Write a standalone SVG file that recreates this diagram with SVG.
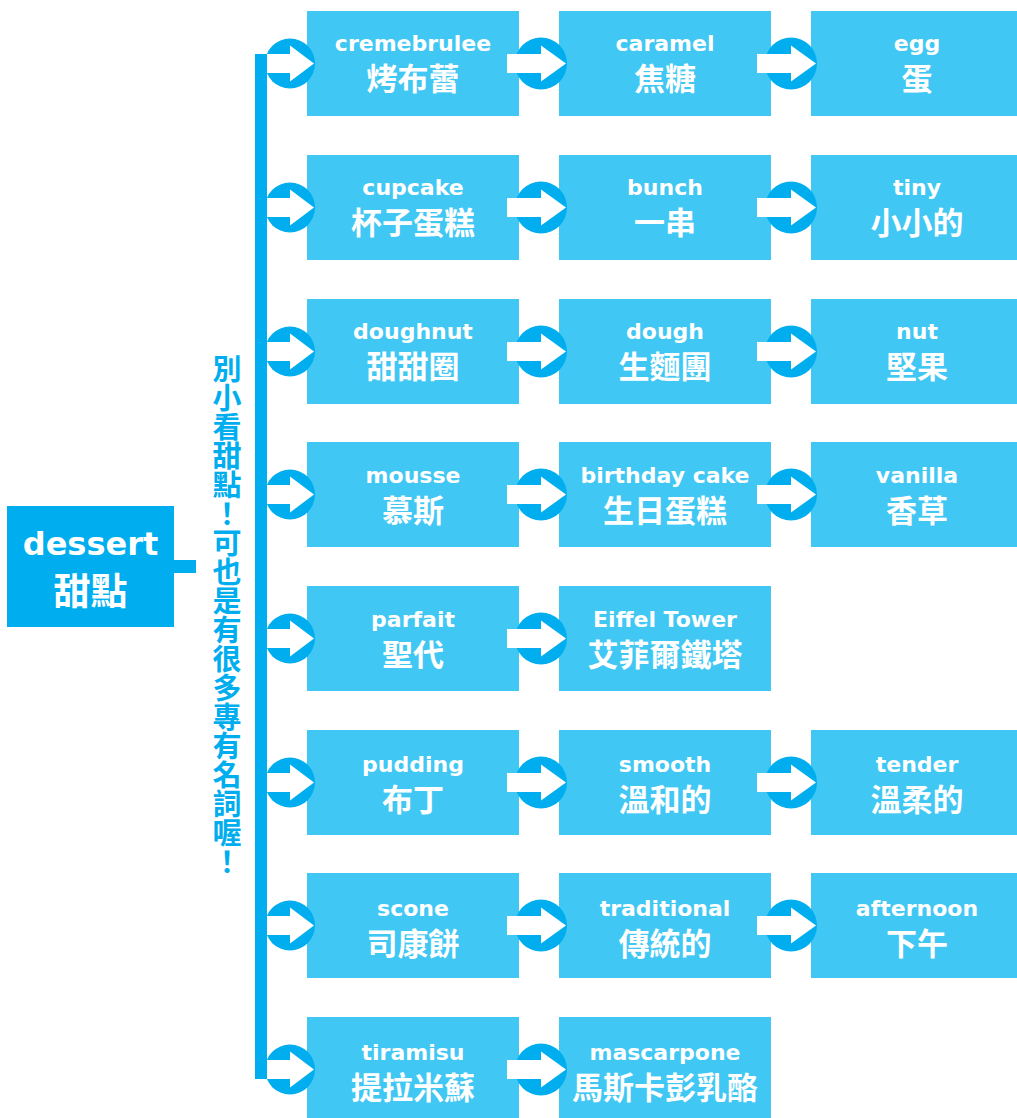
<svg xmlns="http://www.w3.org/2000/svg" width="1017" height="1118" viewBox="0 0 1017 1118">
<defs>
<style>
.box{fill:#41C7F4}
.root{fill:#00AEEF}
.dk{fill:#00AEEF}
.wh{fill:#FFFFFF}
.en{font-family:"DejaVu Sans","Noto Sans CJK TC",sans-serif;font-weight:bold;font-size:22px;fill:#FFFFFF;text-anchor:middle}
.zh{font-family:"Noto Sans CJK TC",sans-serif;font-weight:bold;font-size:31px;fill:#FFFFFF;text-anchor:middle}
.vt{font-family:"Noto Sans CJK TC",sans-serif;font-weight:bold;font-size:29px;fill:#00AEEF;writing-mode:vertical-rl}
</style>
<g id="arrowL">
<circle cx="290" cy="0" r="25" class="dk"/>
<rect x="267" y="-9.5" width="23" height="19" class="wh"/>
<polygon points="290,-18 314,0 290,18" class="wh"/>
</g>
<g id="arrowM">
<circle cx="541" cy="0" r="26" class="dk"/>
<rect x="507" y="-9.5" width="34" height="19" class="wh"/>
<polygon points="541,-18 566,0 541,18" class="wh"/>
</g>
</defs>
<rect width="1017" height="1118" fill="#FFFFFF"/>

<g id="root">
<rect x="7" y="506" width="167" height="121" class="root"/>
<text x="90.5" y="555" class="en" style="font-size:32px">dessert</text>
<text x="90.5" y="605" class="zh" style="font-size:37px">甜點</text>
</g>

<g id="caption">
<text x="227" y="354" class="vt">別小看甜點！可也是有很多專有名詞喔！</text>
</g>

<g id="nodes">
<g id="n-cremebrulee"><rect x="307" y="11" width="212" height="105" class="box"/><text x="413" y="51" class="en">cremebrulee</text><text x="413" y="90" class="zh">烤布蕾</text></g>
<g id="n-caramel"><rect x="559" y="11" width="212" height="105" class="box"/><text x="665" y="51" class="en">caramel</text><text x="665" y="90" class="zh">焦糖</text></g>
<g id="n-egg"><rect x="811" y="11" width="212" height="105" class="box"/><text x="917" y="51" class="en">egg</text><text x="917" y="90" class="zh">蛋</text></g>

<g id="n-cupcake"><rect x="307" y="155" width="212" height="105" class="box"/><text x="413" y="195" class="en">cupcake</text><text x="413" y="234" class="zh">杯子蛋糕</text></g>
<g id="n-bunch"><rect x="559" y="155" width="212" height="105" class="box"/><text x="665" y="195" class="en">bunch</text><text x="665" y="234" class="zh">一串</text></g>
<g id="n-tiny"><rect x="811" y="155" width="212" height="105" class="box"/><text x="917" y="195" class="en">tiny</text><text x="917" y="234" class="zh">小小的</text></g>

<g id="n-doughnut"><rect x="307" y="299" width="212" height="105" class="box"/><text x="413" y="339" class="en">doughnut</text><text x="413" y="378" class="zh">甜甜圈</text></g>
<g id="n-dough"><rect x="559" y="299" width="212" height="105" class="box"/><text x="665" y="339" class="en">dough</text><text x="665" y="378" class="zh">生麵團</text></g>
<g id="n-nut"><rect x="811" y="299" width="212" height="105" class="box"/><text x="917" y="339" class="en">nut</text><text x="917" y="378" class="zh">堅果</text></g>

<g id="n-mousse"><rect x="307" y="442" width="212" height="105" class="box"/><text x="413" y="483" class="en">mousse</text><text x="413" y="522" class="zh">慕斯</text></g>
<g id="n-birthdaycake"><rect x="559" y="442" width="212" height="105" class="box"/><text x="665" y="483" class="en">birthday cake</text><text x="665" y="522" class="zh">生日蛋糕</text></g>
<g id="n-vanilla"><rect x="811" y="442" width="212" height="105" class="box"/><text x="917" y="483" class="en">vanilla</text><text x="917" y="522" class="zh">香草</text></g>

<g id="n-parfait"><rect x="307" y="586" width="212" height="105" class="box"/><text x="413" y="627" class="en">parfait</text><text x="413" y="666" class="zh">聖代</text></g>
<g id="n-eiffeltower"><rect x="559" y="586" width="212" height="105" class="box"/><text x="665" y="627" class="en">Eiffel Tower</text><text x="665" y="666" class="zh">艾菲爾鐵塔</text></g>

<g id="n-pudding"><rect x="307" y="730" width="212" height="105" class="box"/><text x="413" y="772" class="en">pudding</text><text x="413" y="811" class="zh">布丁</text></g>
<g id="n-smooth"><rect x="559" y="730" width="212" height="105" class="box"/><text x="665" y="772" class="en">smooth</text><text x="665" y="811" class="zh">溫和的</text></g>
<g id="n-tender"><rect x="811" y="730" width="212" height="105" class="box"/><text x="917" y="772" class="en">tender</text><text x="917" y="811" class="zh">溫柔的</text></g>

<g id="n-scone"><rect x="307" y="873" width="212" height="105" class="box"/><text x="413" y="916" class="en">scone</text><text x="413" y="955" class="zh">司康餅</text></g>
<g id="n-traditional"><rect x="559" y="873" width="212" height="105" class="box"/><text x="665" y="916" class="en">traditional</text><text x="665" y="955" class="zh">傳統的</text></g>
<g id="n-afternoon"><rect x="811" y="873" width="212" height="105" class="box"/><text x="917" y="916" class="en">afternoon</text><text x="917" y="955" class="zh">下午</text></g>

<g id="n-tiramisu"><rect x="307" y="1017" width="212" height="105" class="box"/><text x="413" y="1060" class="en">tiramisu</text><text x="413" y="1099" class="zh">提拉米蘇</text></g>
<g id="n-mascarpone"><rect x="559" y="1017" width="212" height="105" class="box"/><text x="665" y="1060" class="en">mascarpone</text><text x="665" y="1099" class="zh">馬斯卡彭乳酪</text></g>
</g>

<g id="connectors">
<rect x="174" y="560" width="22" height="13" class="dk"/>
<rect x="255" y="54" width="12" height="1025" class="dk"/>
<use href="#arrowL" y="63.5"/>
<use href="#arrowL" y="207.5"/>
<use href="#arrowL" y="351.5"/>
<use href="#arrowL" y="494.5"/>
<use href="#arrowL" y="638.5"/>
<use href="#arrowL" y="782.5"/>
<use href="#arrowL" y="925.5"/>
<use href="#arrowL" y="1069.5"/>
<use href="#arrowM" y="63.5"/>
<use href="#arrowM" y="207.5"/>
<use href="#arrowM" y="351.5"/>
<use href="#arrowM" y="494.5"/>
<use href="#arrowM" y="638.5"/>
<use href="#arrowM" y="782.5"/>
<use href="#arrowM" y="925.5"/>
<use href="#arrowM" y="1069.5"/>
<use href="#arrowM" x="250" y="63.5"/>
<use href="#arrowM" x="250" y="207.5"/>
<use href="#arrowM" x="250" y="351.5"/>
<use href="#arrowM" x="250" y="494.5"/>
<use href="#arrowM" x="250" y="782.5"/>
<use href="#arrowM" x="250" y="925.5"/>
</g>
</svg>
